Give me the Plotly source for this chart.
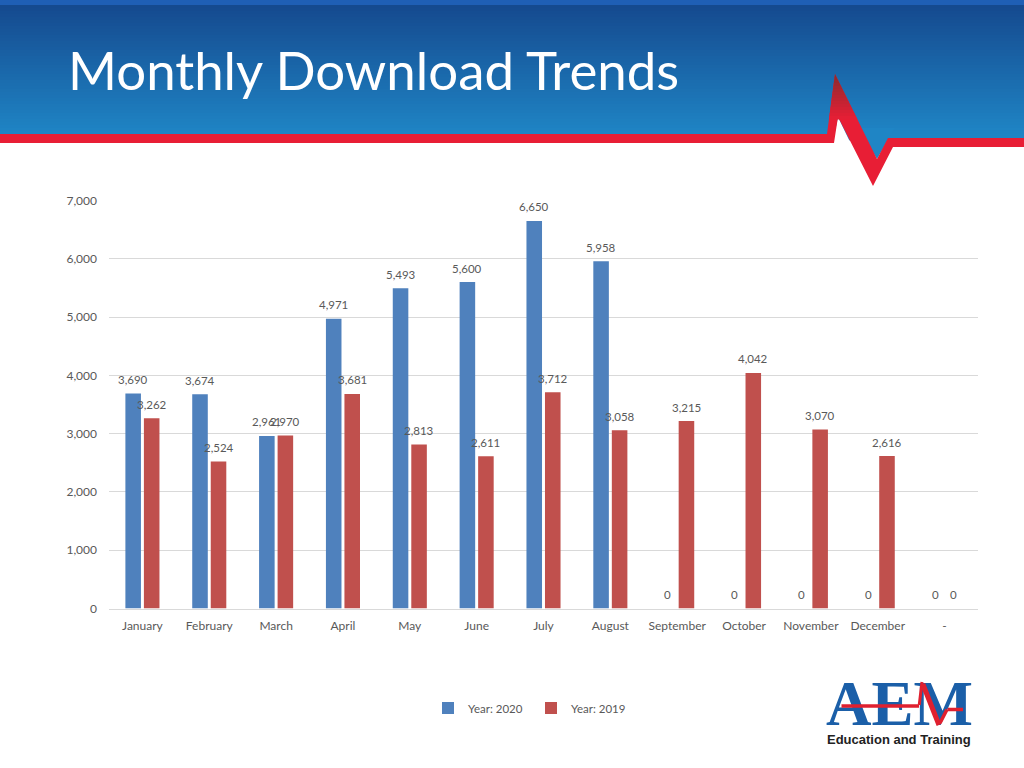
import plotly.graph_objects as go

months = ["January", "February", "March", "April", "May", "June", "July", "August",
          "September", "October", "November", "December", "-"]
year_2020 = [3690, 3674, 2961, 4971, 5493, 5600, 6650, 5958, 0, 0, 0, 0, 0]
year_2019 = [3262, 2524, 2970, 3681, 2813, 2611, 3712, 3058, 3215, 4042, 3070, 2616, 0]
y_ticks = [0, 1000, 2000, 3000, 4000, 5000, 6000, 7000]

W, H = 1024, 768
FONT = "Lato"
GREY = "#595959"


def px(x):
    return x / W


def py(y):
    return 1 - y / H


def poly(points):
    return "M" + " L".join(f"{px(x):.5f},{py(y):.5f}" for x, y in points) + " Z"


def mix(a, b, t):
    return "#" + "".join(f"{round(p + (q - p) * t):02x}" for p, q in zip(a, b))


shapes = []


def rect(x0, y0, x1, y1, color, layer="below"):
    shapes.append(dict(type="rect", xref="paper", yref="paper", x0=px(x0), x1=px(x1),
                       y0=py(y0), y1=py(y1), fillcolor=color, line_width=0, layer=layer))


def polygon(points, color, layer="below"):
    shapes.append(dict(type="path", xref="paper", yref="paper", path=poly(points),
                       fillcolor=color, line_width=0, layer=layer))


# header band with vertical gradient
rect(0, 0, W, 5, "#1F5FB5")
top, bottom = (0x15, 0x4A, 0x8F), (0x1F, 0x85, 0xC5)
band_top, band_bottom = 5, 140
for y in range(band_top, band_bottom, 3):
    t = min(1, (y - band_top) / (133 - band_top))
    rect(0, y, W, y + 3.5, mix(top, bottom, t))
polygon([(0, 134), (827, 134), (834, 140), (834, 146), (0, 146)], "#FFFFFF")
polygon([(838, 117), (832, 146), (852, 146)], "#FFFFFF")
polygon([(858, 128), (877, 159), (895, 128)], mix(top, bottom, 1))
# ECG stroke in the header, darkening towards its peak
red = (0xE8, 0x1E, 0x35)
polygon([(0, 134), (827, 134), (835, 74), (877, 159), (888, 138), (1024, 138), (1024, 147),
         (893, 147), (873, 186), (838, 117), (834, 143), (0, 143)], mix(red, red, 0))
dark = (0x8E, 0x2A, 0x2E)
for y in range(74, 118, 3):
    t = (y - 74) / 44
    y2 = y + 3.5
    polygon([(835 - (y - 74) * 8 / 60, y), (835 + (y - 74) * 42 / 85, y),
             (835 + (y2 - 74) * 42 / 85, y2), (835 - (y2 - 74) * 8 / 60, y2)], mix(dark, red, t))

fig = go.Figure()
series = [("Year: 2020", year_2020, "#4F81BD", -1), ("Year: 2019", year_2019, "#C0504D", 1)]
for name, values, color, _ in series:
    fig.add_trace(go.Bar(name=name, x=months, y=values, marker=dict(color=color, line_width=0)))

annotations = []
# data labels, centred over their bars
for name, values, color, side in series:
    for month, value in zip(months, values):
        annotations.append(dict(text=f"{value:,}", x=month, y=value, xref="x", yref="y", showarrow=False,
                                xanchor="center", yanchor="middle", xshift=side * 9.25, yshift=14,
                                font=dict(family=FONT, size=11.5, color=GREY)))

# logo
annotations.append(dict(text="<b>AEM</b>", x=px(899), y=py(704), xref="paper", yref="paper", showarrow=False,
                        xanchor="center", yanchor="middle",
                        font=dict(family="Liberation Serif", size=63, color="#1B5FA8")))
annotations.append(dict(text="<b>Education and Training</b>", x=px(899), y=py(739), xref="paper", yref="paper",
                        showarrow=False, xanchor="center", yanchor="middle",
                        font=dict(family="Liberation Sans", size=13, color="#222222")))
# logo's ECG stroke runs over the letters
for (x0, y0), (x1, y1), width in [((840, 706), (919, 706), 3.5), ((919, 707), (922, 682), 3),
                                  ((922, 682), (939, 725), 5), ((939, 725), (947, 709.5), 3.5),
                                  ((946, 709.5), (963, 709.5), 3.5)]:
    annotations.append(dict(text=" ", x=px(x1), y=py(y1), ax=x0 - x1, ay=y0 - y1, xref="paper", yref="paper",
                            axref="pixel", ayref="pixel", showarrow=True, arrowhead=0, arrowwidth=width,
                            arrowcolor="#E0202F", standoff=0, startstandoff=0,
                            font=dict(size=1)))

fig.update_layout(
    width=W, height=H, autosize=False,
    margin=dict(l=0, r=0, t=0, b=0),
    paper_bgcolor="#FFFFFF", plot_bgcolor="rgba(0,0,0,0)",
    font=dict(family=FONT, size=12, color=GREY),
    barmode="group", bargap=0.446, bargroupgap=0.16,
    title=dict(text="Monthly Download Trends", x=px(68), xanchor="left", xref="paper",
               y=py(72), yanchor="middle", yref="paper",
               font=dict(family=FONT, size=52.8, color="#FFFFFF")),
    xaxis=dict(domain=[px(109), px(978)], type="category", categoryorder="array", categoryarray=months,
               showgrid=False, showline=True, linecolor="#D9D9D9", linewidth=1, ticks="",
               ticklabelstandoff=6, tickfont=dict(family=FONT, size=12, color=GREY),
               automargin=False),
    yaxis=dict(domain=[py(608.5), py(200.5)], range=[0, 7000], tickvals=y_ticks, tickformat=",",
               showgrid=True, gridcolor="#D9D9D9", gridwidth=1, zeroline=False, showline=False, ticks="",
               ticklabelstandoff=11, tickfont=dict(family=FONT, size=12, color=GREY),
               automargin=False),
    legend=dict(orientation="h", x=px(531), xanchor="center", y=py(708), yanchor="middle",
                entrywidth=58,
                font=dict(family=FONT, size=11.5, color=GREY), bgcolor="rgba(0,0,0,0)"),
    shapes=shapes,
    annotations=annotations,
)

fig.write_html("out.html", config={"displayModeBar": False}, post_script="document.body.style.margin='0';")
